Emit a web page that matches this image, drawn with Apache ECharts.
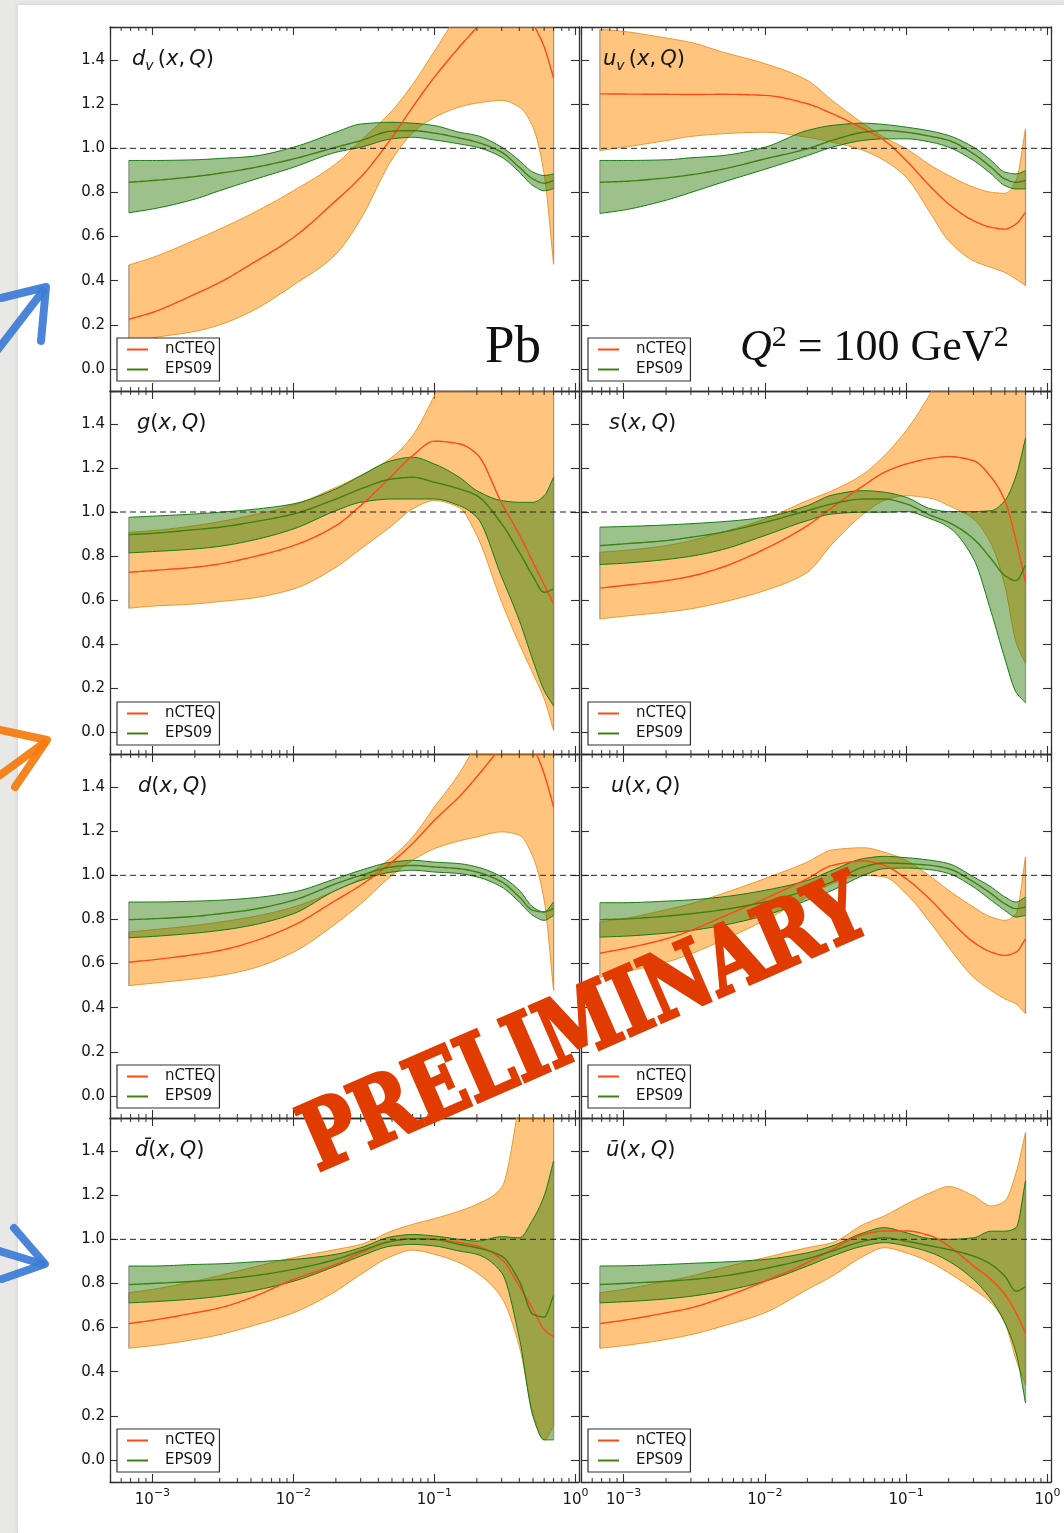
<!DOCTYPE html>
<html>
<head>
<meta charset="utf-8">
<title>Nuclear PDF ratios for Pb at Q² = 100 GeV²</title>
<script src="https://cdn.jsdelivr.net/npm/echarts@6.0.0/dist/echarts.min.js"></script>
<style>
  html, body { margin: 0; padding: 0; background: #e8e9e7; }
  #chart { width: 1064px; height: 1533px; }
</style>
</head>
<body>
<div id="chart"></div>
<script>
// ---- shared grid of momentum fractions x ----
const xVals = [0.00068, 0.001, 0.002, 0.003, 0.005, 0.01, 0.02, 0.03, 0.05, 0.07, 0.1, 0.15, 0.2, 0.3, 0.4, 0.5, 0.6, 0.7];
const xTickVals = [0.001, 0.01, 0.1, 1];
const yTickVals = [0.0, 0.2, 0.4, 0.6, 0.8, 1.0, 1.2, 1.4];
const refRatio = 1.0;

// ---- d_v ----
const dvNcteqMid  = [0.225, 0.256, 0.339, 0.392, 0.475, 0.596, 0.763, 0.869, 1.05, 1.187, 1.323, 1.459, 1.55, 1.70, 1.72, 1.57, 1.46, 1.32];
const dvNcteqLow  = [0.11, 0.14, 0.17, 0.20, 0.26, 0.38, 0.52, 0.68, 0.95, 1.07, 1.14, 1.187, 1.205, 1.217, 1.187, 1.096, 0.884, 0.475];
const dvNcteqHigh = [0.471, 0.505, 0.584, 0.634, 0.702, 0.808, 0.93, 1.035, 1.17, 1.29, 1.44, 1.62, 1.75, 1.9, 2.0, 2.0, 1.9, 1.8];
const dvEpsMid    = [0.846, 0.854, 0.872, 0.887, 0.91, 0.952, 1.005, 1.035, 1.078, 1.08, 1.069, 1.047, 1.028, 0.982, 0.914, 0.861, 0.842, 0.854];
const dvEpsLow    = [0.708, 0.725, 0.77, 0.808, 0.854, 0.914, 0.982, 1.005, 1.043, 1.05, 1.038, 1.02, 1.005, 0.96, 0.892, 0.831, 0.808, 0.816];
const dvEpsHigh   = [0.945, 0.945, 0.948, 0.954, 0.963, 1.005, 1.073, 1.11, 1.118, 1.114, 1.103, 1.073, 1.058, 1.005, 0.945, 0.892, 0.877, 0.884];

// ---- u_v ----
const uvNcteqMid  = [1.247, 1.246, 1.245, 1.244, 1.245, 1.24, 1.202, 1.157, 1.088, 1.036, 0.945, 0.824, 0.748, 0.672, 0.642, 0.634, 0.657, 0.71];
const uvNcteqLow  = [0.99, 1.005, 1.035, 1.054, 1.066, 1.073, 1.05, 1.028, 0.99, 0.945, 0.869, 0.702, 0.581, 0.49, 0.46, 0.437, 0.407, 0.377];
const uvNcteqHigh = [1.54, 1.53, 1.50, 1.48, 1.437, 1.384, 1.308, 1.217, 1.111, 1.05, 0.998, 0.922, 0.877, 0.824, 0.801, 0.796, 0.854, 1.088];
const uvEpsMid    = [0.846, 0.85, 0.866, 0.88, 0.905, 0.952, 0.998, 1.036, 1.073, 1.081, 1.073, 1.054, 1.036, 0.975, 0.914, 0.861, 0.846, 0.854];
const uvEpsLow    = [0.705, 0.72, 0.765, 0.80, 0.846, 0.905, 0.967, 1.005, 1.036, 1.043, 1.043, 1.028, 1.005, 0.945, 0.884, 0.831, 0.816, 0.816];
const uvEpsHigh   = [0.945, 0.945, 0.948, 0.957, 0.967, 1.005, 1.081, 1.104, 1.114, 1.108, 1.096, 1.078, 1.058, 1.005, 0.945, 0.892, 0.884, 0.899];

// ---- g ----
const gNcteqMid  = [0.726, 0.734, 0.749, 0.764, 0.794, 0.847, 0.938, 1.029, 1.165, 1.256, 1.322, 1.31, 1.264, 1.04, 0.897, 0.772, 0.67, 0.583];
const gNcteqLow  = [0.563, 0.572, 0.582, 0.593, 0.608, 0.65, 0.749, 0.832, 0.938, 1.014, 1.052, 1.02, 0.893, 0.59, 0.4, 0.265, 0.151, 0.007];
const gNcteqHigh = [0.908, 0.915, 0.938, 0.956, 0.984, 1.032, 1.112, 1.165, 1.249, 1.347, 1.529, 1.75, 1.9, 2.0, 2.0, 2.0, 2.0, 2.0];
const gEpsMid    = [0.897, 0.903, 0.92, 0.931, 0.953, 0.991, 1.059, 1.105, 1.15, 1.158, 1.135, 1.105, 1.074, 0.946, 0.817, 0.708, 0.635, 0.65];
const gEpsLow    = [0.814, 0.82, 0.832, 0.844, 0.87, 0.923, 1.006, 1.044, 1.059, 1.059, 1.059, 1.029, 0.976, 0.704, 0.507, 0.325, 0.189, 0.118];
const gEpsHigh   = [0.976, 0.981, 0.991, 0.999, 1.011, 1.037, 1.105, 1.165, 1.234, 1.249, 1.218, 1.158, 1.097, 1.052, 1.044, 1.044, 1.074, 1.158];

// ---- s ----
const sNcteqMid  = [0.654, 0.666, 0.688, 0.708, 0.749, 0.832, 0.938, 1.021, 1.12, 1.18, 1.218, 1.244, 1.252, 1.233, 1.158, 1.052, 0.87, 0.681];
const sNcteqLow  = [0.514, 0.526, 0.545, 0.56, 0.59, 0.643, 0.726, 0.855, 0.991, 1.052, 1.074, 1.062, 1.029, 0.968, 0.855, 0.666, 0.408, 0.31];
const sNcteqHigh = [0.817, 0.825, 0.847, 0.87, 0.908, 0.968, 1.052, 1.097, 1.173, 1.256, 1.37, 1.544, 1.7, 1.9, 2.0, 2.0, 2.0, 2.0];
const sEpsMid    = [0.847, 0.855, 0.87, 0.885, 0.908, 0.953, 1.006, 1.037, 1.059, 1.059, 1.037, 0.984, 0.953, 0.878, 0.787, 0.711, 0.688, 0.757];
const sEpsLow    = [0.761, 0.767, 0.784, 0.799, 0.829, 0.893, 0.961, 0.991, 0.999, 0.999, 1.002, 0.968, 0.931, 0.787, 0.545, 0.333, 0.181, 0.133];
const sEpsHigh   = [0.931, 0.934, 0.941, 0.947, 0.956, 0.976, 1.029, 1.077, 1.097, 1.09, 1.067, 1.014, 1.002, 1.002, 1.006, 1.052, 1.165, 1.335];

// ---- d ----
const dNcteqMid  = [0.606, 0.617, 0.641, 0.659, 0.697, 0.773, 0.887, 0.955, 1.06, 1.144, 1.25, 1.356, 1.447, 1.58, 1.65, 1.58, 1.46, 1.31];
const dNcteqLow  = [0.5, 0.511, 0.531, 0.546, 0.576, 0.652, 0.781, 0.871, 1.0, 1.068, 1.121, 1.156, 1.174, 1.197, 1.182, 1.083, 0.887, 0.478];
const dNcteqHigh = [0.743, 0.753, 0.773, 0.788, 0.811, 0.856, 0.932, 0.985, 1.083, 1.174, 1.31, 1.462, 1.6, 1.8, 1.9, 1.9, 1.9, 1.9];
const dEpsMid    = [0.799, 0.803, 0.814, 0.826, 0.844, 0.887, 0.962, 1.0, 1.038, 1.045, 1.038, 1.03, 1.015, 0.97, 0.902, 0.841, 0.834, 0.849];
const dEpsLow    = [0.717, 0.723, 0.738, 0.75, 0.773, 0.826, 0.932, 0.977, 1.015, 1.023, 1.015, 1.008, 0.993, 0.947, 0.879, 0.818, 0.796, 0.818];
const dEpsHigh   = [0.879, 0.879, 0.883, 0.887, 0.897, 0.924, 0.985, 1.023, 1.06, 1.068, 1.06, 1.053, 1.038, 0.993, 0.932, 0.856, 0.834, 0.879];

// ---- u ----
const uNcteqMid  = [0.647, 0.667, 0.712, 0.75, 0.811, 0.894, 0.985, 1.045, 1.065, 1.045, 0.985, 0.887, 0.803, 0.697, 0.652, 0.637, 0.652, 0.712];
const uNcteqLow  = [0.538, 0.561, 0.606, 0.644, 0.705, 0.796, 0.902, 0.962, 1.0, 0.993, 0.917, 0.781, 0.674, 0.538, 0.478, 0.44, 0.417, 0.372];
const uNcteqHigh = [0.788, 0.803, 0.844, 0.871, 0.917, 0.985, 1.06, 1.115, 1.125, 1.105, 1.068, 0.993, 0.932, 0.856, 0.811, 0.796, 0.826, 1.083];
const uEpsMid    = [0.799, 0.802, 0.815, 0.826, 0.844, 0.879, 0.932, 0.97, 1.038, 1.056, 1.053, 1.045, 1.03, 0.97, 0.917, 0.871, 0.849, 0.856];
const uEpsLow    = [0.72, 0.724, 0.738, 0.75, 0.773, 0.818, 0.887, 0.932, 1.0, 1.03, 1.033, 1.025, 1.008, 0.947, 0.887, 0.841, 0.811, 0.818];
const uEpsHigh   = [0.876, 0.876, 0.883, 0.889, 0.902, 0.932, 0.977, 1.023, 1.076, 1.086, 1.08, 1.068, 1.053, 0.993, 0.947, 0.902, 0.879, 0.902];

// ---- d-bar ----
const dbNcteqMid  = [0.618, 0.633, 0.667, 0.689, 0.735, 0.818, 0.886, 0.939, 0.992, 1.003, 1.0, 0.985, 0.97, 0.909, 0.788, 0.682, 0.591, 0.558];
const dbNcteqLow  = [0.506, 0.518, 0.546, 0.568, 0.606, 0.667, 0.765, 0.841, 0.924, 0.951, 0.932, 0.894, 0.848, 0.735, 0.515, 0.213, 0.091, 0.152];
const dbNcteqHigh = [0.758, 0.773, 0.81, 0.836, 0.871, 0.917, 0.954, 0.977, 1.038, 1.068, 1.094, 1.128, 1.159, 1.235, 1.62, 2.0, 2.2, 2.2];
const dbEpsMid    = [0.795, 0.8, 0.81, 0.818, 0.833, 0.864, 0.909, 0.947, 0.992, 1.003, 1.0, 0.977, 0.962, 0.924, 0.81, 0.66, 0.648, 0.745];
const dbEpsLow    = [0.712, 0.717, 0.73, 0.742, 0.765, 0.81, 0.879, 0.924, 0.97, 0.977, 0.97, 0.947, 0.932, 0.848, 0.553, 0.197, 0.091, 0.091];
const dbEpsHigh   = [0.879, 0.879, 0.886, 0.889, 0.897, 0.909, 0.932, 0.962, 1.012, 1.022, 1.015, 1.0, 0.992, 1.012, 1.007, 1.091, 1.197, 1.355];

// ---- u-bar ----
const ubNcteqMid  = [0.618, 0.633, 0.667, 0.689, 0.735, 0.81, 0.894, 0.954, 1.022, 1.038, 1.038, 1.015, 0.97, 0.879, 0.818, 0.75, 0.667, 0.573];
const ubNcteqLow  = [0.506, 0.518, 0.546, 0.568, 0.606, 0.667, 0.773, 0.833, 0.924, 0.962, 0.939, 0.894, 0.848, 0.773, 0.712, 0.621, 0.455, 0.341];
const ubNcteqHigh = [0.758, 0.773, 0.81, 0.833, 0.871, 0.917, 0.962, 0.985, 1.068, 1.106, 1.159, 1.212, 1.239, 1.197, 1.151, 1.174, 1.302, 1.484];
const ubEpsMid    = [0.795, 0.8, 0.81, 0.818, 0.833, 0.867, 0.912, 0.947, 0.992, 1.007, 0.992, 0.97, 0.954, 0.924, 0.886, 0.833, 0.765, 0.785];
const ubEpsLow    = [0.712, 0.717, 0.73, 0.742, 0.765, 0.81, 0.879, 0.924, 0.97, 0.985, 0.97, 0.939, 0.901, 0.818, 0.727, 0.621, 0.485, 0.258];
const ubEpsHigh   = [0.879, 0.88, 0.886, 0.891, 0.897, 0.909, 0.939, 0.97, 1.03, 1.053, 1.03, 1.003, 1.0, 1.007, 1.037, 1.037, 1.053, 1.265];

// ---- styling ----
const FONT = "'DejaVu Sans', sans-serif";
const SERIF = "'Liberation Serif', 'DejaVu Serif', serif";
const TEXT = '#161616';
const FRAME = '#303030';
const NC_FILL = 'rgba(255,139,0,0.5)';
const NC_EDGE = '#ea982f';
const NC_LINE = '#ff4a12';
const EP_FILL = 'rgba(50,125,10,0.48)';
const EP_EDGE = '#137a13';
const EP_LINE = '#3f8012';
const CAP = 'rgba(130,130,130,0.75)';
const X_MIN = 5e-4, X_MAX = 1.06, Y_MIN = -0.1, Y_MAX = 1.55;
const GRID_LEFT = [110, 581], GRID_W = [469, 470];
const rowTop = r => Math.round(27 + 363.7 * r);

const TITLE_RICH = {
  i: { fontFamily: FONT, fontStyle: 'italic', fontSize: 21, fill: TEXT, lineHeight: 26 },
  n: { fontFamily: FONT, fontSize: 21, fill: TEXT, lineHeight: 26 },
  s: { fontFamily: FONT, fontStyle: 'italic', fontSize: 14, fill: TEXT, lineHeight: 14, verticalAlign: 'bottom' }
};
const args = '{i|x}{n|,\u2009}{i|Q}{n|)}';

const panels = [
  { col: 0, row: 0, dx: 22, title: '{i|d}{s|v}{n|\u2009(}' + args, nc: { mid: dvNcteqMid, low: dvNcteqLow, high: dvNcteqHigh }, ep: { mid: dvEpsMid, low: dvEpsLow, high: dvEpsHigh } },
  { col: 1, row: 0, dx: 22, title: '{i|u}{s|v}{n|\u2009(}' + args, nc: { mid: uvNcteqMid, low: uvNcteqLow, high: uvNcteqHigh }, ep: { mid: uvEpsMid, low: uvEpsLow, high: uvEpsHigh } },
  { col: 0, row: 1, dx: 27, title: '{i|g}{n|(}' + args, nc: { mid: gNcteqMid, low: gNcteqLow, high: gNcteqHigh }, ep: { mid: gEpsMid, low: gEpsLow, high: gEpsHigh } },
  { col: 1, row: 1, dx: 28, title: '{i|s}{n|(}' + args, nc: { mid: sNcteqMid, low: sNcteqLow, high: sNcteqHigh }, ep: { mid: sEpsMid, low: sEpsLow, high: sEpsHigh } },
  { col: 0, row: 2, dx: 28, title: '{i|d}{n|(}' + args, nc: { mid: dNcteqMid, low: dNcteqLow, high: dNcteqHigh }, ep: { mid: dEpsMid, low: dEpsLow, high: dEpsHigh } },
  { col: 1, row: 2, dx: 30, title: '{i|u}{n|(}' + args, nc: { mid: uNcteqMid, low: uNcteqLow, high: uNcteqHigh }, ep: { mid: uEpsMid, low: uEpsLow, high: uEpsHigh } },
  { col: 0, row: 3, dx: 25, title: '{i|d\u0304}{n|(}' + args, nc: { mid: dbNcteqMid, low: dbNcteqLow, high: dbNcteqHigh }, ep: { mid: dbEpsMid, low: dbEpsLow, high: dbEpsHigh } },
  { col: 1, row: 3, dx: 25, title: '{i|u\u0304}{n|(}' + args, nc: { mid: ubNcteqMid, low: ubNcteqLow, high: ubNcteqHigh }, ep: { mid: ubEpsMid, low: ubEpsLow, high: ubEpsHigh } }
];

// minor tick positions on the logarithmic x axis (2..9 x 10^n)
const minorXs = [];
for (let e = -4; e <= 0; e++) {
  for (let k = 2; k <= 9; k++) {
    const v = k * Math.pow(10, e);
    if (v > X_MIN * 1.0001 && v < X_MAX) minorXs.push(v);
  }
}

// monotone cubic (Fritsch-Carlson) resampling of screen points, x increasing
function smoothPts(pts, steps = 10) {
  const n = pts.length;
  if (n < 3) return pts;
  const dx = [], m = [], t = new Array(n);
  for (let i = 0; i < n - 1; i++) {
    dx[i] = pts[i + 1][0] - pts[i][0];
    m[i] = (pts[i + 1][1] - pts[i][1]) / dx[i];
  }
  t[0] = m[0]; t[n - 1] = m[n - 2];
  for (let i = 1; i < n - 1; i++) {
    if (m[i - 1] * m[i] <= 0) { t[i] = 0; continue; }
    const w1 = 2 * dx[i] + dx[i - 1], w2 = dx[i] + 2 * dx[i - 1];
    t[i] = (w1 + w2) / (w1 / m[i - 1] + w2 / m[i]);
  }
  const out = [];
  for (let i = 0; i < n - 1; i++) {
    for (let s = 0; s < steps; s++) {
      const u = s / steps, u2 = u * u, u3 = u2 * u;
      const h00 = 2 * u3 - 3 * u2 + 1, h10 = u3 - 2 * u2 + u, h01 = -2 * u3 + 3 * u2, h11 = u3 - u2;
      out.push([pts[i][0] + u * dx[i],
        h00 * pts[i][1] + h10 * dx[i] * t[i] + h01 * pts[i + 1][1] + h11 * dx[i] * t[i + 1]]);
    }
  }
  out.push(pts[n - 1]);
  return out;
}

function bandSeries(axes, set, fill, edge, z) {
  return {
    type: 'custom', ...axes, z, silent: true, clip: true,
    data: xVals.map((x, k) => [x, set.low[k], set.high[k]]),
    encode: { x: 0, y: [1, 2] },
    renderItem(params, api) {
      if (params.dataIndex !== 0) return null;
      const hi = smoothPts(xVals.map((x, k) => api.coord([x, set.high[k]])));
      const lo = smoothPts(xVals.map((x, k) => api.coord([x, set.low[k]])));
      const n = hi.length - 1;
      return {
        type: 'group',
        children: [
          { type: 'polygon', shape: { points: hi.concat(lo.slice().reverse()) }, style: { fill: fill, stroke: 'none' } },
          { type: 'line', shape: { x1: hi[0][0], y1: hi[0][1], x2: lo[0][0], y2: lo[0][1] }, style: { stroke: CAP, lineWidth: 1.3 } },
          { type: 'line', shape: { x1: hi[n][0], y1: hi[n][1], x2: lo[n][0], y2: lo[n][1] }, style: { stroke: CAP, lineWidth: 1.3 } },
          { type: 'polyline', shape: { points: hi }, style: { stroke: edge, lineWidth: 1, fill: 'none' } },
          { type: 'polyline', shape: { points: lo }, style: { stroke: edge, lineWidth: 1, fill: 'none' } }
        ]
      };
    }
  };
}

function curveSeries(axes, name, vals, color, z) {
  return {
    type: 'custom', name, ...axes, z, silent: true, clip: true,
    itemStyle: { color },
    data: xVals.map((x, k) => [x, vals[k]]),
    encode: { x: 0, y: 1 },
    renderItem(params, api) {
      if (params.dataIndex !== 0) return null;
      const pts = smoothPts(xVals.map((x, k) => api.coord([x, vals[k]])));
      return { type: 'polyline', shape: { points: pts }, style: { stroke: color, lineWidth: 1.4, fill: 'none' } };
    }
  };
}

function refLineSeries(axes) {
  return {
    type: 'custom', ...axes, z: 6, silent: true, clip: true,
    data: [[X_MIN, refRatio], [X_MAX, refRatio]],
    encode: { x: 0, y: 1 },
    renderItem(params, api) {
      if (params.dataIndex !== 0) return null;
      const a = api.coord([X_MIN, refRatio]), b = api.coord([X_MAX, refRatio]);
      return { type: 'line', shape: { x1: a[0], y1: a[1], x2: b[0], y2: b[1] }, style: { stroke: '#222', lineWidth: 1, lineDash: [6, 4] } };
    }
  };
}

function minorTickSeries(axes) {
  return {
    type: 'custom', ...axes, z: 6, silent: true, clip: false,
    data: minorXs.map(x => [x, Y_MIN]),
    encode: { x: 0, y: 1 },
    renderItem(params, api) {
      const x = api.value(0);
      const b = api.coord([x, Y_MIN]), t = api.coord([x, Y_MAX]);
      const st = { stroke: FRAME, lineWidth: 1 };
      return {
        type: 'group',
        children: [
          { type: 'line', shape: { x1: b[0], y1: b[1], x2: b[0], y2: b[1] - 4 }, style: st },
          { type: 'line', shape: { x1: t[0], y1: t[1], x2: t[0], y2: t[1] + 4 }, style: st }
        ]
      };
    }
  };
}

const xLabelFormatter = v => {
  const e = Math.log10(v), r = Math.round(e);
  if (Math.abs(e - r) > 1e-6) return '';
  if (!xTickVals.some(t => Math.abs(Math.log10(t) - r) < 1e-6)) return '';
  return '10{sup|' + (r < 0 ? '\u2212' : '') + Math.abs(r) + '}';
};
const yLabelFormatter = v => yTickVals.some(t => Math.abs(t - v) < 1e-6) ? v.toFixed(1) : '';

const grids = [], xAxes = [], yAxes = [], legends = [], series = [], graphics = [];
const axisLine = { show: true, onZero: false, lineStyle: { color: FRAME, width: 1.3 } };
const axisTick = { show: true, inside: true, length: 8, lineStyle: { color: FRAME, width: 1.1 } };

panels.forEach((p, i) => {
  const top = rowTop(p.row), h = rowTop(p.row + 1) - top;
  grids.push({ left: GRID_LEFT[p.col], top, width: GRID_W[p.col], height: h, containLabel: false });
  const xBase = { type: 'log', logBase: 10, min: X_MIN, max: X_MAX, gridIndex: i, splitLine: { show: false }, axisLine, axisTick };
  xAxes.push({ ...xBase, position: 'bottom', axisLabel: {
    show: p.row === 3, formatter: xLabelFormatter, margin: 6, fontFamily: FONT, fontSize: 15, color: TEXT, lineHeight: 24,
    rich: { sup: { fontFamily: FONT, fontSize: 11, color: TEXT, lineHeight: 13, verticalAlign: 'top' } } } });
  xAxes.push({ ...xBase, position: 'top', axisLabel: { show: false } });
  const yBase = { type: 'value', min: Y_MIN, max: Y_MAX, splitNumber: 8, gridIndex: i, splitLine: { show: false }, axisLine, axisTick };
  yAxes.push({ ...yBase, position: 'left', axisLabel: { show: p.col === 0, formatter: yLabelFormatter, margin: 5, fontFamily: FONT, fontSize: 15, color: TEXT } });
  yAxes.push({ ...yBase, position: 'right', axisLabel: { show: false } });

  const axes = { xAxisIndex: 2 * i, yAxisIndex: 2 * i };
  series.push(bandSeries(axes, p.nc, NC_FILL, NC_EDGE, 2));
  series.push(bandSeries(axes, p.ep, EP_FILL, EP_EDGE, 3));
  series.push(curveSeries(axes, 'nCTEQ', p.nc.mid, NC_LINE, 4));
  series.push(curveSeries(axes, 'EPS09', p.ep.mid, EP_LINE, 5));
  series.push(refLineSeries(axes));
  series.push(minorTickSeries(axes));

  legends.push({
    show: true, orient: 'vertical', left: GRID_LEFT[p.col] + 7, top: top + 311,
    data: ['nCTEQ', 'EPS09'], icon: 'rect', itemWidth: 21, itemHeight: 2, itemGap: 5,
    padding: [4, 4, 4, 10], borderColor: FRAME, borderWidth: 1.2, borderRadius: 0, backgroundColor: '#fff',
    selectedMode: false, z: 20,
    textStyle: { fontFamily: FONT, fontSize: 15, color: TEXT, padding: [0, 0, 0, 12] }
  });

  graphics.push({
    type: 'text', x: GRID_LEFT[p.col] + p.dx, y: top + 33, z: 30,
    style: { text: p.title, rich: TITLE_RICH, align: 'left', verticalAlign: 'middle' }
  });
});

// page background: white sheet on grey
graphics.unshift({ type: 'rect', shape: { x: 18, y: 5, width: 1046, height: 1528 }, z: -100,
  style: { fill: '#ffffff', shadowBlur: 5, shadowColor: 'rgba(0,0,0,0.12)' } });

// annotations
graphics.push({ type: 'text', x: 485, y: 348, z: 30,
  style: { text: 'Pb', fontFamily: SERIF, fontSize: 53, fill: '#111', align: 'left', verticalAlign: 'middle' } });
graphics.push({ type: 'text', x: 740, y: 348, z: 30,
  style: {
    text: '{q|Q}{p|2}{t| = 100 GeV}{p|2}', align: 'left', verticalAlign: 'middle',
    rich: {
      q: { fontFamily: SERIF, fontStyle: 'italic', fontSize: 44, fill: '#111', lineHeight: 50 },
      t: { fontFamily: SERIF, fontSize: 44, fill: '#111', lineHeight: 50 },
      p: { fontFamily: SERIF, fontSize: 30, fill: '#111', lineHeight: 30, verticalAlign: 'top' }
    }
  } });
graphics.push({ type: 'text', x: 586, y: 1029, rotation: 23.5 * Math.PI / 180, scaleY: 1.25, z: 100,
  style: { text: 'PRELIMINARY', fontFamily: "'DejaVu Serif', serif", fontWeight: 'bold', fontSize: 73,
    fill: '#e03c00', stroke: '#e03c00', lineWidth: 3, lineJoin: 'round',
    align: 'center', verticalAlign: 'middle' } });

// hand-drawn arrows at the left margin
const arrowStyle = c => ({ stroke: c, lineWidth: 8, lineCap: 'round', lineJoin: 'round', fill: 'none', opacity: 0.92 });
const BLUE = '#3b7bd6', ORANGE = '#f57a0c';
graphics.push({ type: 'polyline', z: 50, shape: { points: [[-4, 352], [43, 291]] }, style: arrowStyle(BLUE) });
graphics.push({ type: 'polyline', z: 50, shape: { points: [[1, 298], [46, 287], [41, 341]] }, style: arrowStyle(BLUE) });
graphics.push({ type: 'polyline', z: 50, shape: { points: [[-4, 778], [44, 743]] }, style: arrowStyle(ORANGE) });
graphics.push({ type: 'polyline', z: 50, shape: { points: [[0, 730], [47, 740], [15, 787]] }, style: arrowStyle(ORANGE) });
graphics.push({ type: 'polyline', z: 50, shape: { points: [[-4, 1250], [42, 1264]] }, style: arrowStyle(BLUE) });
graphics.push({ type: 'polyline', z: 50, shape: { points: [[14, 1228], [45, 1264], [2, 1279]] }, style: arrowStyle(BLUE) });

const chart = echarts.init(document.getElementById('chart'), null, { renderer: 'canvas', width: 1064, height: 1533 });
chart.setOption({
  animation: false,
  backgroundColor: '#e8e9e7',
  textStyle: { fontFamily: FONT },
  grid: grids,
  xAxis: xAxes,
  yAxis: yAxes,
  legend: legends,
  series,
  graphic: { elements: graphics }
});
</script>
</body>
</html>
